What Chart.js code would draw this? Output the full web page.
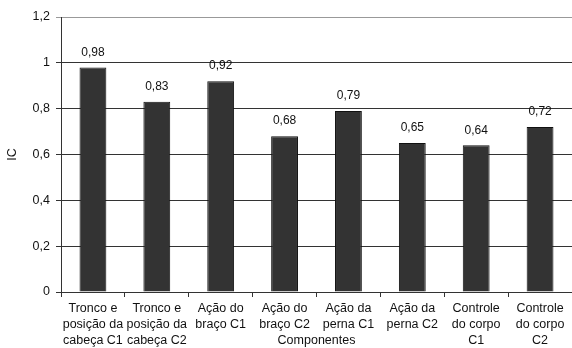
<!DOCTYPE html>
<html>
<head>
<meta charset="utf-8">
<script src="https://cdn.jsdelivr.net/npm/chart.js@4.4.1/dist/chart.umd.min.js"></script>
<style>
  html, body { margin: 0; padding: 0; background: #fff; }
  #wrap { width: 572px; height: 348px; }
</style>
</head>
<body>
<div id="wrap"><canvas id="mycanvas"></canvas></div>
<script>
// componentes avaliados (rótulos em várias linhas)
var componentes = [
    ["Tronco e", "posição da", "cabeça C1"],
    ["Tronco e", "posição da", "cabeça C2"],
    ["Ação do", "braço C1"],
    ["Ação do", "braço C2"],
    ["Ação da", "perna C1"],
    ["Ação da", "perna C2"],
    ["Controle", "do corpo", "C1"],
    ["Controle", "do corpo", "C2"]
];
var valoresIC = [0.98, 0.83, 0.92, 0.68, 0.79, 0.65, 0.64, 0.72];
var ticksY = [0, 0.2, 0.4, 0.6, 0.8, 1, 1.2];

function virgula(v) {
    return String(v).replace(".", ",");
}

// escreve o valor em cima de cada barra
var rotulosValor = {
    id: "rotulosValor",
    afterDatasetsDraw: function(chart) {
        var ctx = chart.ctx;
        var meta = chart.getDatasetMeta(0);
        ctx.save();
        ctx.font = "12px 'Liberation Sans', Arial, sans-serif";
        ctx.fillStyle = "#111";
        ctx.textAlign = "center";
        ctx.textBaseline = "middle";
        meta.data.forEach(function(bar, i) {
            ctx.fillText(virgula(valoresIC[i]), bar.x, bar.y - 15);
        });
        ctx.restore();
    }
};

Chart.defaults.font.family = "'Liberation Sans', Arial, sans-serif";
Chart.defaults.font.size = 12.5;
Chart.defaults.color = "#111";

var ctx = document.getElementById("mycanvas");

var grafico = new Chart(ctx,
{
    type: "bar",
    data: {
        labels: componentes,
        datasets: [{
            label: "IC",
            data: valoresIC,
            backgroundColor: "#333333",
            borderColor: "#111111",
            borderWidth: 1,
            categoryPercentage: 1,
            barPercentage: 0.42
        }]
    },
    options: {
        responsive: true,
        maintainAspectRatio: false,
        animation: false,
        layout: { padding: { top: 17, right: 0, bottom: 0, left: 0 } },
        plugins: {
            legend: { display: false },
            tooltip: { enabled: false }
        },
        scales: {
            x: {
                grid: {
                    display: true,
                    offset: true,
                    drawOnChartArea: false,
                    drawTicks: true,
                    tickLength: 5,
                    color: "#333"
                },
                border: { display: true, color: "#333" },
                ticks: {
                    maxRotation: 0,
                    autoSkip: false,
                    padding: 4,
                    font: { lineHeight: "16px" }
                },
                title: { display: true, text: "Componentes", padding: 0 },
                afterFit: function(scale) { scale.height = 56; }
            },
            y: {
                min: 0,
                max: 1.2,
                afterBuildTicks: function(scale) {
                    scale.ticks = ticksY.map(function(v) { return { value: v }; });
                },
                ticks: {
                    padding: 6,
                    callback: function(v) { return virgula(v); }
                },
                grid: {
                    tickLength: 5,
                    color: function(c) {
                        return c.tick && c.tick.value === 1.2 ? "#999" : "#333";
                    }
                },
                border: { display: true, color: "#333" },
                title: { display: true, text: "IC", padding: 5 },
                afterFit: function(scale) { scale.width = 61; }
            }
        }
    },
    plugins: [rotulosValor]
});
</script>
</body>
</html>
